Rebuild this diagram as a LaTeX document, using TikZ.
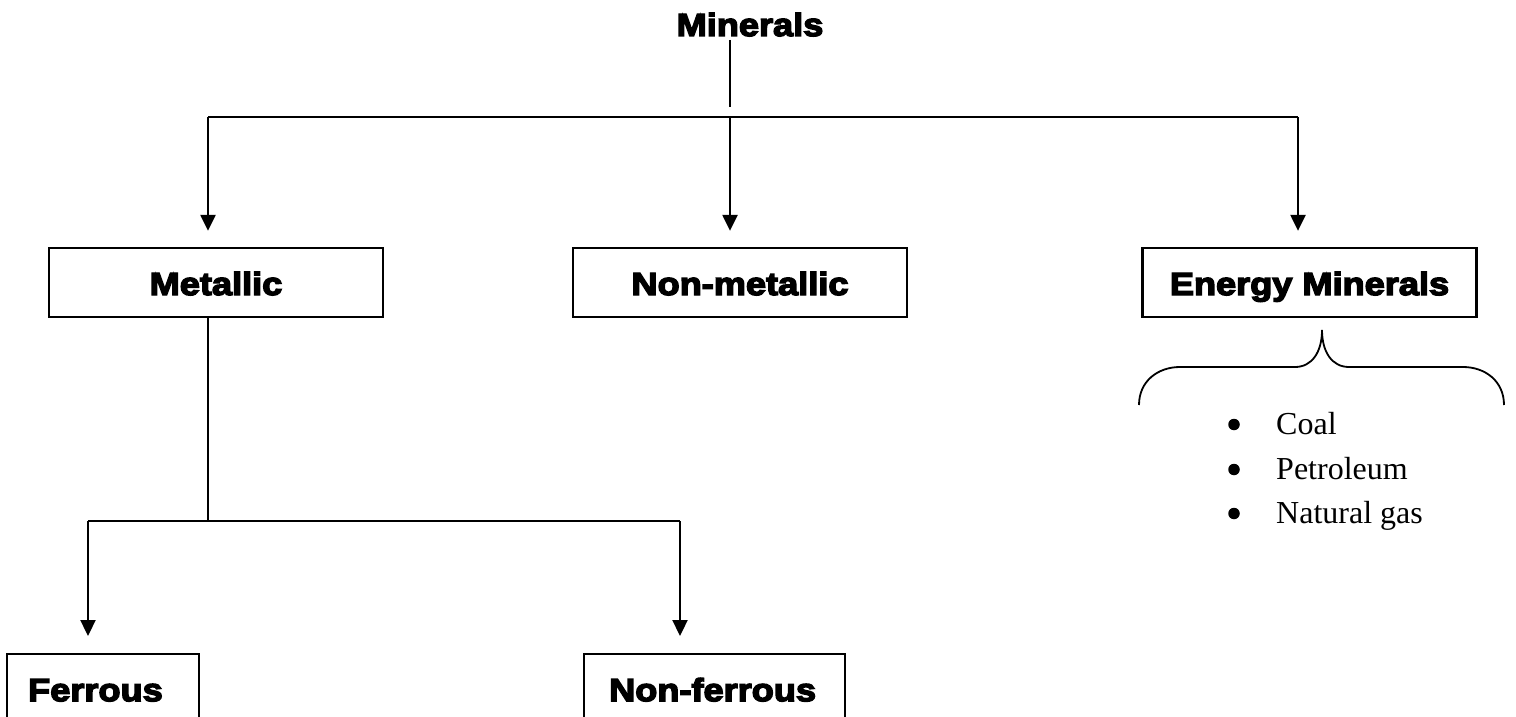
\documentclass[tikz,border=0pt]{standalone}
\usepackage{fontspec}
\setmainfont{Liberation Serif}
\newfontfamily\heavy[FakeStretch=1.13,FakeBold=4.5]{Liberation Sans Bold}
\usetikzlibrary{arrows.meta}

\begin{document}
\begin{tikzpicture}[x=1pt,y=-1pt,
  conn/.style={line width=2.3pt},
  arrowconn/.style={line width=2.3pt,-{Triangle[width=15pt,length=16pt]}},
  heavytext/.style={font=\heavy\fontsize{32}{36}\selectfont},
  topbox/.style={heavytext,draw,line width=2.3pt,minimum width=334pt,
    inner ysep=0pt,text height=47pt,text depth=22pt},
  lowbox/.style={heavytext,draw,line width=2.3pt,anchor=north west,align=left,
    inner ysep=0pt,text height=47pt,text depth=60pt},
  listitem/.style={anchor=base west,inner sep=0pt,
    font=\fontsize{32}{38}\selectfont},
  dot/.style={circle,fill,inner sep=0pt,minimum size=11.5pt},
  bracepath/.style={line width=1.8pt}]
  \useasboundingbox (0,0) rectangle (1516,717);
  \clip (0,0) rectangle (1516,717);

  % title and its stem
  \node[heavytext,anchor=base,inner sep=0pt] (minerals) at (750,36) {Minerals};
  \coordinate (stemtop) at (730,40);
  \coordinate (stembot) at (730,107);
  \draw[conn] (stemtop) -- (stembot);

  % first level
  \node[topbox] (metallic)    at (216,282.5)    {Metallic};
  \node[topbox] (nonmetallic) at (740,282.5)    {Non-metallic};
  \node[topbox] (energy)      at (1309.5,282.5) {Energy Minerals};

  \coordinate (hl) at (208,117);
  \coordinate (hm) at (730,117);
  \coordinate (hr) at (1298,117);
  \draw[conn] (hl) -- (hr);
  \draw[arrowconn,shorten >=16pt] (hl) -- (hl |- metallic.north);
  \draw[arrowconn,shorten >=16pt] (hm) -- (hm |- nonmetallic.north);
  \draw[arrowconn,shorten >=16pt] (hr) -- (hr |- energy.north);

  % second level under Metallic
  \node[lowbox,text width=150pt,inner xsep=21pt] (ferrous) at (6,653) {Ferrous};
  \node[lowbox,text width=211pt,inner xsep=25pt] (nonferrous) at (583,653) {Non-ferrous};

  \coordinate (jm) at (208,521);
  \coordinate (jl) at (88,521);
  \coordinate (jr) at (680,521);
  \draw[conn] (metallic.south -| jm) -- (jm);
  \draw[conn] (jl) -- (jr);
  \draw[arrowconn,shorten >=17pt] (jl) -- (jl |- ferrous.north);
  \draw[arrowconn,shorten >=17pt] (jr) -- (jr |- nonferrous.north);

  % brace below Energy Minerals
  \draw[bracepath] (1139,405) .. controls (1139,381) and (1158,367) .. (1180,367)
    -- (1295,367) .. controls (1312,367) and (1322,352) .. (1322,330)
    .. controls (1322,352) and (1332,367) .. (1349,367)
    -- (1463,367) .. controls (1485,367) and (1504,381) .. (1504,405);

  % list of energy minerals
  \node[listitem] (coal)      at (1276,434) {Coal};
  \node[listitem] (petroleum) at (1276,479) {Petroleum};
  \node[listitem] (natgas)    at (1276,523) {Natural gas};
  \node[dot] (dotcoal)      at (1234,424.5) {};
  \node[dot] (dotpetroleum) at (1234,469.5) {};
  \node[dot] (dotnatgas)    at (1234,513.5) {};
\end{tikzpicture}
\end{document}
